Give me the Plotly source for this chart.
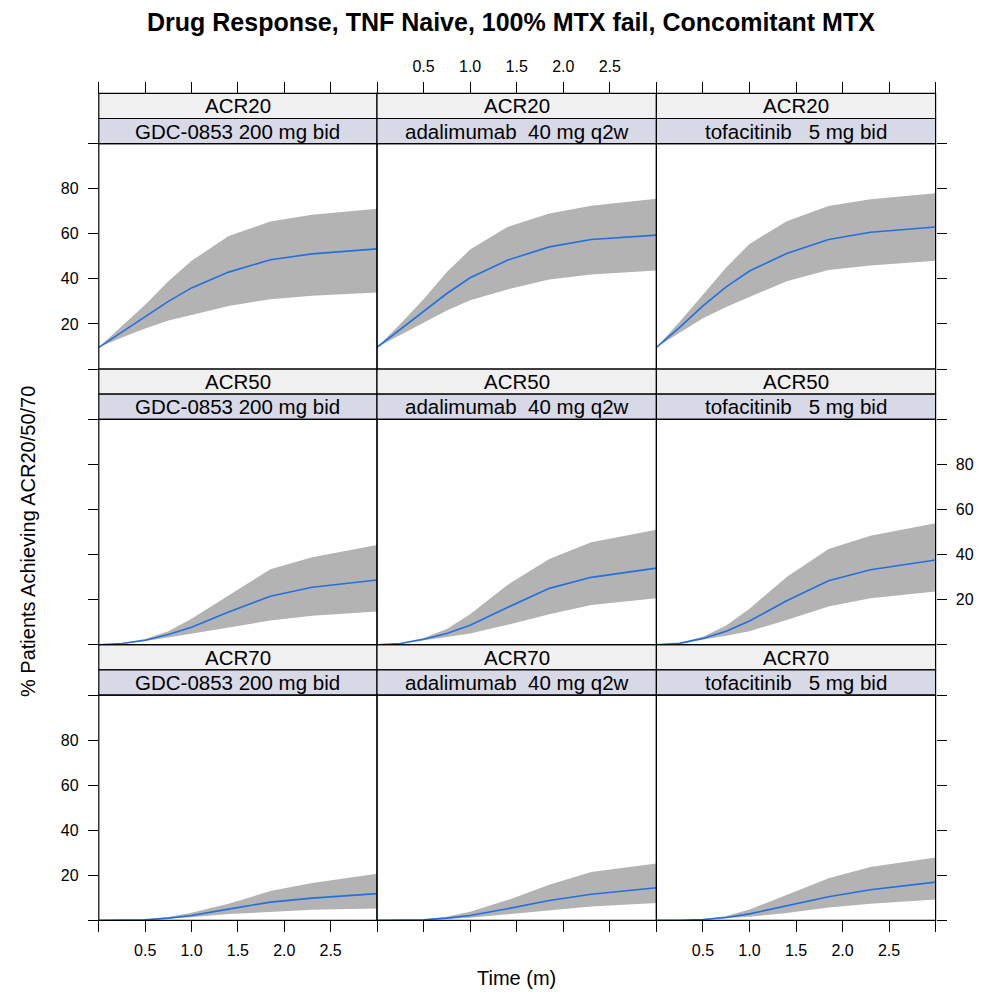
import plotly.graph_objects as go

# ---------------- data ----------------
time_m = [0, 0.25, 0.5, 0.75, 1.0, 1.4, 1.85, 2.3, 3.0]
endpoints = ["ACR20", "ACR50", "ACR70"]
drugs = ["GDC-0853 200 mg bid", "adalimumab\u00a0 40 mg q2w", "tofacitinib\u00a0\u00a0 5 mg bid"]

x_tickvals = [0, 0.5, 1.0, 1.5, 2.0, 2.5, 3.0]
x_ticktext = ["", "0.5", "1.0", "1.5", "2.0", "2.5", ""]
y_tickvals = [0, 20, 40, 60, 80, 100]
y_ticktext = ["", "20", "40", "60", "80", ""]

# ACR20
acr20_gdc_med = [9.6, 16.5, 23, 30, 36, 43, 48.5, 51.1, 53.3]
acr20_gdc_up = [9.6, 19, 28.5, 39, 48, 59, 65.5, 68.5, 71.1]
acr20_gdc_lo = [9.6, 14, 18, 21.5, 24, 28, 31, 32.5, 34]
acr20_ada_med = [9.6, 17.5, 25.5, 33.5, 40.5, 48.3, 54.2, 57.5, 59.4]
acr20_ada_up = [9.6, 20, 31, 43, 53, 63, 69, 72.5, 75.6]
acr20_ada_lo = [9.6, 15, 20.5, 26, 30.5, 35.3, 39.7, 41.9, 43.7]
acr20_tofa_med = [9.6, 18.5, 28, 36.5, 43.5, 51.3, 57.5, 60.7, 63]
acr20_tofa_up = [9.6, 21, 33, 45, 55.5, 65.6, 72.3, 75.3, 78]
acr20_tofa_lo = [9.6, 16, 22.5, 27.5, 32, 39, 43.9, 45.9, 48.1]
# ACR50
acr50_gdc_med = [0, 0.5, 2.0, 4.5, 7.7, 14.5, 21.5, 25.5, 28.7]
acr50_gdc_up = [0, 0.6, 2.5, 6, 11.5, 22, 33.5, 38.8, 44.3]
acr50_gdc_lo = [0, 0.4, 1.6, 3.2, 4.8, 7.5, 10.7, 12.9, 14.7]
acr50_ada_med = [0, 0.5, 2.4, 5, 8.6, 16.5, 25, 29.9, 34]
acr50_ada_up = [0, 0.6, 3, 7, 13.5, 26.5, 38, 45.5, 51]
acr50_ada_lo = [0, 0.4, 1.8, 3.4, 5, 8.8, 13.5, 17.6, 20.6]
acr50_tofa_med = [0, 0.6, 2.8, 6, 10.5, 19.5, 28.4, 33.3, 37.6]
acr50_tofa_up = [0, 0.7, 3.5, 8.5, 16, 30, 42.5, 48.4, 53.9]
acr50_tofa_lo = [0, 0.5, 2.2, 4, 6, 11, 17, 20.6, 23.6]
# ACR70
acr70_gdc_med = [0, 0, 0.3, 1.0, 2.2, 5.0, 8.1, 9.9, 11.9]
acr70_gdc_up = [0, 0, 0.4, 1.5, 3.4, 7.4, 13, 16.6, 20.7]
acr70_gdc_lo = [0, 0, 0.2, 0.7, 1.4, 2.8, 3.8, 4.7, 5.3]
acr70_ada_med = [0, 0, 0.3, 1.0, 2.2, 5.2, 8.8, 11.6, 14.5]
acr70_ada_up = [0, 0, 0.4, 1.6, 3.8, 9, 15.8, 21.5, 25.2]
acr70_ada_lo = [0, 0, 0.2, 0.6, 1.2, 2.5, 4.5, 6.2, 7.7]
acr70_tofa_med = [0, 0, 0.4, 1.3, 2.9, 6.4, 10.5, 13.6, 17]
acr70_tofa_up = [0, 0, 0.5, 2.0, 4.8, 11.3, 18.7, 23.7, 27.9]
acr70_tofa_lo = [0, 0, 0.3, 0.8, 1.6, 3.3, 5.7, 7.4, 9.3]

panels = [
    [(acr20_gdc_med, acr20_gdc_up, acr20_gdc_lo),
     (acr20_ada_med, acr20_ada_up, acr20_ada_lo),
     (acr20_tofa_med, acr20_tofa_up, acr20_tofa_lo)],
    [(acr50_gdc_med, acr50_gdc_up, acr50_gdc_lo),
     (acr50_ada_med, acr50_ada_up, acr50_ada_lo),
     (acr50_tofa_med, acr50_tofa_up, acr50_tofa_lo)],
    [(acr70_gdc_med, acr70_gdc_up, acr70_gdc_lo),
     (acr70_ada_med, acr70_ada_up, acr70_ada_lo),
     (acr70_tofa_med, acr70_tofa_up, acr70_tofa_lo)],
]

# ---------------- layout geometry (page pixels) ----------------
W, H = 987, 992
OFF = 8  # page body margin offset
col_edges = [98.8, 377.0, 656.4, 935.6]
top0 = 93.3
row_h = 275.7
strip_h = 25.2

def fx(p):
    return (p - OFF) / W

def fy(p):
    return 1 - (p - OFF) / H

FONT = "Liberation Sans, Arial, Helvetica, sans-serif"
BAND = "#B3B3B3"
LINE = "#2270E0"
STRIP1 = "#F0F0F0"
STRIP2 = "#D8D9E6"

fig = go.Figure()
layout = dict(
    width=W, height=H,
    margin=dict(l=0, r=0, t=0, b=0),
    paper_bgcolor="white", plot_bgcolor="white",
    showlegend=False,
    font=dict(family=FONT, size=16, color="black"),
)
shapes = []
annotations = []

for r in range(3):
    strip_top = top0 + r * row_h
    plot_top = strip_top + 2 * strip_h
    plot_bot = top0 + (r + 1) * row_h
    for c in range(3):
        i = r * 3 + c + 1
        xa = "x" if i == 1 else f"x{i}"
        ya = "y" if i == 1 else f"y{i}"
        med, up, lo = panels[r][c]
        fig.add_trace(go.Scatter(
            x=time_m + time_m[::-1], y=up + lo[::-1],
            fill="toself", fillcolor=BAND, mode="lines",
            line=dict(width=0, color=BAND), hoverinfo="skip",
            xaxis=xa, yaxis=ya))
        fig.add_trace(go.Scatter(
            x=time_m, y=med, mode="lines",
            line=dict(color=LINE, width=1.6),
            xaxis=xa, yaxis=ya, cliponaxis=False))

        x0, x1 = col_edges[c], col_edges[c + 1]
        xdom = [fx(x0), fx(x1)]
        ydom = [fy(plot_bot), fy(plot_top)]

        xax = dict(domain=xdom, range=[0, 3], anchor=ya,
                   showgrid=False, zeroline=False, showline=False,
                   tickvals=x_tickvals, ticktext=x_ticktext,
                   ticklen=11, tickwidth=1, tickcolor="black",
                   tickfont=dict(size=16, family=FONT, color="black"))
        if r == 0:
            xax.update(side="top", anchor="free", position=fy(strip_top), ticks="outside",
                       showticklabels=(c == 1), ticklabelstandoff=4)
        elif r == 2:
            xax.update(side="bottom", ticks="outside", showticklabels=(c != 1),
                       ticklabelstandoff=4)
        else:
            xax.update(ticks="", showticklabels=False)

        yax = dict(domain=ydom, range=[0, 100], anchor=xa,
                   showgrid=False, zeroline=False, showline=False,
                   tickvals=y_tickvals, ticktext=y_ticktext,
                   ticklen=10, tickwidth=1, tickcolor="black",
                   tickfont=dict(size=16, family=FONT, color="black"))
        if c == 0:
            yax.update(side="left", ticks="outside", showticklabels=(r != 1),
                       ticklabelstandoff=6)
        elif c == 2:
            yax.update(side="right", ticks="outside", showticklabels=(r == 1),
                       ticklabelstandoff=6)
        else:
            yax.update(ticks="", showticklabels=False)

        layout["xaxis" if i == 1 else f"xaxis{i}"] = xax
        layout["yaxis" if i == 1 else f"yaxis{i}"] = yax

        # panel border
        shapes.append(dict(type="rect", xref="paper", yref="paper",
                           x0=fx(x0), x1=fx(x1), y0=fy(plot_bot), y1=fy(plot_top),
                           line=dict(color="black", width=1.2), fillcolor="rgba(0,0,0,0)",
                           layer="above"))
        # strips
        for k, (txt, col) in enumerate([(endpoints[r], STRIP1), (drugs[c], STRIP2)]):
            s0 = strip_top + k * strip_h
            s1 = s0 + strip_h
            shapes.append(dict(type="rect", xref="paper", yref="paper",
                               x0=fx(x0), x1=fx(x1), y0=fy(s1), y1=fy(s0),
                               line=dict(color="black", width=1.2), fillcolor=col,
                               layer="below"))
            annotations.append(dict(xref="paper", yref="paper",
                                    x=fx((x0 + x1) / 2), y=fy((s0 + s1) / 2),
                                    text=txt, showarrow=False,
                                    xanchor="center", yanchor="middle",
                                    font=dict(size=20.5, family=FONT, color="black")))

annotations.append(dict(xref="paper", yref="paper", x=fx(511), y=fy(22),
                        text="<b>Drug Response, TNF Naive, 100% MTX fail, Concomitant MTX</b>",
                        showarrow=False, xanchor="center", yanchor="middle",
                        font=dict(size=25, family=FONT, color="black")))
annotations.append(dict(xref="paper", yref="paper", x=fx(517), y=fy(978),
                        text="Time (m)", showarrow=False, xanchor="center", yanchor="middle",
                        font=dict(size=20, family=FONT, color="black")))
annotations.append(dict(xref="paper", yref="paper", x=fx(28), y=fy(542),
                        text="% Patients Achieving ACR20/50/70", textangle=-90,
                        showarrow=False, xanchor="center", yanchor="middle",
                        font=dict(size=20, family=FONT, color="black")))

layout["shapes"] = shapes
layout["annotations"] = annotations
fig.update_layout(**layout)
fig.write_html("out.html")
